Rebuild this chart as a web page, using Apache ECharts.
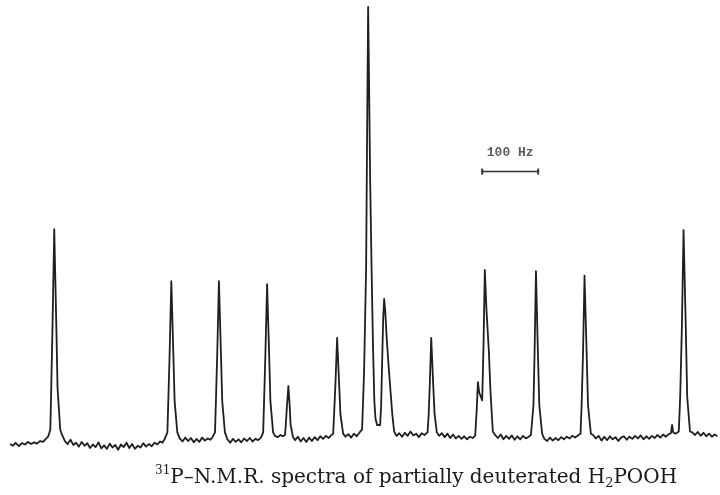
<!DOCTYPE html>
<html>
<head>
<meta charset="utf-8">
<title>31P NMR spectrum</title>
<script src="https://cdn.jsdelivr.net/npm/echarts@6.0.0/dist/echarts.min.js"></script>
<style>
  html, body { margin: 0; padding: 0; background: #fff; }
  #main { width: 720px; height: 495px; }
</style>
</head>
<body>
<div id="main"></div>
<script>
// spectrum trace: [frequency offset in Hz, intensity (tallest line = 100)]
var spectrum = [
  [0,-0.9],[5,-1.3],[10,-0.6],[16,-1.4],[21,-0.7],[27,-1.0],[32,-0.4],[38,-0.9],[43,-0.5],[48,-0.8],[54,-0.2],[59,-0.4],[64,0.3],[68,0.8],
  [72,2.4],[73.6,12],[76,27],[79,48.7],[82.6,27],[84.9,12],[89.7,2.4],
  [93,1.2],[98,-0.2],[103,-0.9],[108,0.1],[113,-1.1],[118,-0.6],[123,-1.5],[128,-0.4],[133,-1.3],[138,-0.7],[143,-1.8],[148,-1.0],
  [153,-1.6],[158,-0.5],[163,-1.9],[168,-1.2],[173,-2.0],[178,-0.8],[183,-1.7],[188,-1.1],[193,-2.2],[198,-1.0],[203,-1.6],[208,-0.6],
  [213,-1.8],[218,-0.9],[223,-2.0],[228,-1.3],[233,-1.7],[238,-0.7],[243,-1.5],[248,-0.9],[253,-1.4],[258,-0.6],[263,-1.0],[268,-0.3],
  [272,-0.6],[276,0.2],[279,0.6],
  [281,1.8],[282.6,9],[285,20],[288,36.7],[291.6,20],[293.9,9],[298.7,1.8],
  [303,0.4],[308,-0.3],[313,0.6],[318,-0.2],[323,0.5],[328,-0.5],[333,0.3],[338,-0.4],[343,0.6],[348,-0.1],[353,0.4],[358,0.1],[362,0.8],
  [366,1.8],[367.6,9],[370,20],[373,36.7],[376.6,20],[378.9,9],[383.7,1.8],
  [388,0.2],[393,-0.6],[398,0.3],[403,-0.4],[408,0.2],[413,-0.5],[418,0.4],[423,-0.2],[428,0.5],[433,-0.3],[438,0.3],[443,0.0],[448,0.6],
  [452,1.8],[453.6,9],[456,20],[459,36],[462.6,20],[464.9,9],[469.7,1.8],
  [473,1.0],[478,0.7],[483,1.2],[487,0.9],
  [491,1.2],[492.6,4],[494.5,8],[497,12.5],[499.5,7.5],[501,3.5],[505,0.8],
  [509,0.0],[514,0.8],[519,-0.3],[524,0.5],[529,-0.4],[534,0.6],[539,-0.2],[544,0.7],[549,0.0],[554,0.9],[559,0.3],[564,1.0],[569,0.5],[573,1.1],
  [577,1.5],[578.6,6],[581,13],[584,23.6],[587.6,13],[589.9,6],[594.7,1.5],
  [599,0.8],[604,1.4],[609,0.6],[614,1.5],[619,0.9],[623,1.6],[626,2.0],
  [628.6,2.5],[632.2,16],[635.8,40],[638.1,80],[639.4,100],[640.8,85],[643,60],[645.5,40],[648,22],[650.5,9],[652.5,5],[655.4,3.5],[660.8,3.5],
  [662.6,8],[664.4,18],[666.2,28],[668.0,32.6],[669.8,30],[672.8,23],[676,17],[679.5,11],[682.5,6],[685.8,2],
  [690,1.0],[695,1.6],[700,0.8],[705,1.7],[710,1.0],[715,2.0],[720,1.1],[725,1.5],[730,0.7],[735,1.6],[740,1.2],
  [745.5,1.8],[747.5,6],[749.5,13],[752,23.6],[755.5,13],[758,6],[762,1.8],
  [766,1.0],[771,1.6],[776,0.7],[781,1.5],[786,0.5],[791,1.3],[796,0.4],[801,1.0],[806,0.3],[811,0.9],[816,0.2],[821,0.8],[826,0.5],
  [830.5,1],[833.2,7],[835.4,13.4],[837.7,11],[843.0,9.2],[845.4,22],[847.7,39.3],[850.7,30],[854.8,20.8],[857.9,11],[862.0,2],
  [866,1.2],[871,0.5],[876,1.3],[881,0.2],[886,1.0],[891,0.3],[896,1.1],[901,0.1],[906,0.9],[911,0.2],[916,1.0],[921,0.4],[926,0.8],[930,1.2],
  [932.5,1.5],[934.5,8],[936.5,20],[939,39],[942.5,20],[945,8],[950,1.5],
  [954,0.3],[959,-0.2],[964,0.6],[969,-0.1],[974,0.5],[979,0.0],[984,0.7],[989,0.2],[994,0.8],[999,0.4],[1004,1.0],[1009,0.6],[1014,1.1],
  [1018.5,1.5],[1020.5,8],[1023,20],[1025.7,38],[1029.5,20],[1032,8],[1037,1.5],
  [1041,1.2],[1046,0.4],[1051,1.0],[1056,-0.1],[1061,0.8],[1066,0.0],[1071,0.9],[1076,0.2],[1081,0.7],[1086,-0.2],[1091,0.6],[1096,0.9],
  [1101,0.1],[1106,0.8],[1111,0.3],[1116,1.0],[1121,0.4],[1126,1.1],[1131,0.2],[1136,0.9],[1141,0.3],[1146,1.0],[1151,0.5],[1156,1.2],
  [1161,0.6],[1166,1.3],[1171,0.8],[1176,1.4],[1180,1.6],[1182,3.5],[1184,1.8],[1188,1.5],[1191,1.4],
  [1194,2],[1196.5,10],[1199.5,26],[1202.5,48.5],[1206.5,26],[1209,10],[1214,2],
  [1218,1.8],[1223,1.2],[1228,1.9],[1233,1.0],[1238,1.7],[1243,0.9],[1248,1.5],[1253,0.8],[1258,1.3],[1263,0.9]
]

// 100 Hz scale bar and its label
var scaleBar = [[843, 62], [943, 62]]
var scaleLabelPos = [[893, 66.3]]
var scaleLabel = '100 Hz'

var captionParts = ['31', 'P–N.M.R. spectra of partially deuterated H', '2', 'POOH']

var myChart = echarts.init(document.getElementById('main'))
myChart.setOption({
  animation: false,
  backgroundColor: '#fff',
  grid: { left: 10, right: 2, top: 7, bottom: 44 },
  xAxis: { type: 'value', min: 0, max: 1264, show: false },
  yAxis: { type: 'value', min: -2.5, max: 100, show: false },
  series: [
    {
      name: 'spectrum',
      type: 'line',
      data: spectrum,
      showSymbol: false,
      symbol: 'none',
      lineStyle: { color: '#1f1f1f', width: 1.8, join: 'round' }
    },
    {
      name: 'scale',
      type: 'line',
      data: scaleBar,
      symbol: 'rect',
      symbolSize: [2, 6],
      itemStyle: { color: '#333' },
      lineStyle: { color: '#333', width: 1.5 }
    },
    {
      name: 'scale label',
      type: 'scatter',
      data: scaleLabelPos,
      symbolSize: 1,
      itemStyle: { color: 'rgba(0,0,0,0)' },
      label: {
        show: true,
        position: 'inside',
        formatter: scaleLabel,
        color: '#333',
        fontFamily: 'Liberation Mono',
        fontWeight: 'bold',
        fontSize: 13
      }
    }
  ],
  graphic: [{
    type: 'text',
    left: 155,
    top: 465,
    style: {
      text: '{sup|' + captionParts[0] + '}{t|' + captionParts[1] + '}{sub|' + captionParts[2] + '}{t|' + captionParts[3] + '}',
      fill: '#1a1a1a',
      rich: {
        t: { fontFamily: 'DejaVu Serif', fontSize: 20, lineHeight: 25, fill: '#1a1a1a' },
        sup: { fontFamily: 'DejaVu Serif', fontSize: 12, lineHeight: 25, verticalAlign: 'top', fill: '#1a1a1a' },
        sub: { fontFamily: 'DejaVu Serif', fontSize: 13, lineHeight: 25, verticalAlign: 'bottom', fill: '#1a1a1a' }
      }
    }
  }]
})
</script>
</body>
</html>
